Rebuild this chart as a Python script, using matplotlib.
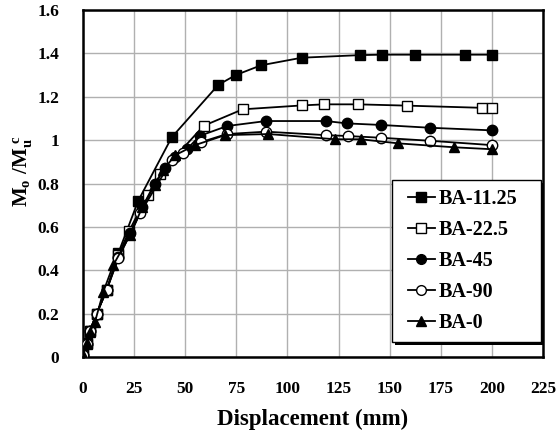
import matplotlib
matplotlib.use("Agg")
import matplotlib.pyplot as plt
from matplotlib.patches import Rectangle

plt.rcParams['font.family'] = ['Liberation Serif', 'DejaVu Serif']
plt.rcParams['font.weight'] = 'bold'
plt.rcParams['mathtext.fontset'] = 'custom'
plt.rcParams['mathtext.rm'] = 'Liberation Serif:bold'
plt.rcParams['mathtext.bf'] = 'Liberation Serif:bold'
plt.rcParams['mathtext.it'] = 'Liberation Serif:bold'

# BA-11.25
x_1125 = [0, 1.8, 3.4, 6.7, 11.6, 17.3, 27, 43.4, 66.2, 74.7, 87.1, 107, 135.7, 146.1, 162.4, 186.9, 200]
y_1125 = [0.01, 0.065, 0.12, 0.2, 0.31, 0.48, 0.72, 1.013, 1.255, 1.30, 1.345, 1.38, 1.392, 1.394, 1.394, 1.394, 1.394]
# BA-22.5
x_225 = [0, 1.8, 3.4, 6.7, 11.6, 17.3, 22.5, 31.6, 37.5, 59.0, 78.1, 107, 117.9, 134.4, 158.7, 195, 200]
y_225 = [0.01, 0.06, 0.12, 0.2, 0.31, 0.47, 0.58, 0.747, 0.845, 1.066, 1.142, 1.16, 1.165, 1.165, 1.159, 1.149, 1.149]
# BA-45
x_45 = [0, 1.8, 3.4, 6.7, 11.6, 17.3, 23, 29, 35, 40, 45, 51, 57.2, 70.5, 89.5, 118.7, 129.3, 145.6, 169.8, 200]
y_45 = [0.01, 0.06, 0.12, 0.2, 0.31, 0.46, 0.57, 0.69, 0.80, 0.87, 0.92, 0.96, 1.02, 1.065, 1.088, 1.088, 1.077, 1.07, 1.057, 1.045]
# BA-90
x_90 = [0, 1.8, 3.4, 6.7, 11.6, 17.3, 27.9, 43.4, 49, 57.5, 70.3, 89.5, 118.7, 129.5, 145.6, 169.8, 200]
y_90 = [0.01, 0.06, 0.12, 0.2, 0.31, 0.455, 0.662, 0.908, 0.942, 0.99, 1.028, 1.039, 1.023, 1.019, 1.011, 0.997, 0.977]
# BA-0
x_0 = [0, 1.8, 3.4, 5.9, 9.9, 14.8, 23, 29, 35.2, 39.3, 45, 54.8, 69.5, 90.7, 123.3, 135.8, 154.3, 181.5, 200]
y_0 = [0.01, 0.065, 0.117, 0.163, 0.30, 0.424, 0.562, 0.69, 0.793, 0.862, 0.93, 0.977, 1.023, 1.028, 1.004, 1.004, 0.985, 0.967, 0.958]

labels = ['BA-11.25', 'BA-22.5', 'BA-45', 'BA-90', 'BA-0']
x_ticks = [0, 25, 50, 75, 100, 125, 150, 175, 200, 225]
y_ticks = [0, 0.2, 0.4, 0.6, 0.8, 1.0, 1.2, 1.4, 1.6]
y_ticklabels = ['0', '0.2', '0.4', '0.6', '0.8', '1', '1.2', '1.4', '1.6']

fig = plt.figure(figsize=(5.58, 4.36), dpi=100)
ax = fig.add_axes([83/558, 1 - 357/436, 460/558, 347/436])

series = [
    (x_1125, y_1125, dict(marker='s', mfc='black', ms=7.5)),
    (x_225, y_225, dict(marker='s', mfc='white', ms=7.5)),
    (x_45, y_45, dict(marker='o', mfc='black', ms=7.5)),
    (x_90, y_90, dict(marker='o', mfc='white', ms=7.5)),
    (x_0, y_0, dict(marker='^', mfc='black', ms=7.5)),
]
for (xs, ys, st), lab in zip(series, labels):
    ax.plot(xs, ys, color='black', lw=1.3, mec='black', mew=1.0, label=lab, zorder=3, **st)

ax.set_xlim(0, 225)
ax.set_ylim(0, 1.6)
ax.set_xticks(x_ticks)
ax.set_xticklabels([str(t) for t in x_ticks])
ax.set_yticks(y_ticks)
ax.set_yticklabels(y_ticklabels)
ax.tick_params(length=0, labelsize=12.5, pad=17)
for lab in ax.get_xticklabels() + ax.get_yticklabels():
    lab.set_fontweight('bold')
ax.grid(True, color='#b0b0b0', lw=1.0, zorder=0)
ax.set_axisbelow(True)
for s in ax.spines.values():
    s.set_linewidth(1.8)
    s.set_color('black')

ax.set_xlabel('Displacement (mm)', fontsize=16.5, fontweight='bold', labelpad=9)
ax.set_ylabel(r'$\mathbf{M_o\ /M_u^{\ c}}$', fontsize=15)
ax.yaxis.set_label_coords(-0.107, 0.535)

# legend frame with solid shadow (axes coords)
bx0, bx1 = 0.6717, 0.9957
by0, by1 = 0.0432, 0.510
dx, dy = 3 / 460, 3 / 347
ax.add_patch(Rectangle((bx0 + dx, by0 - dy), bx1 - bx0, by1 - by0, transform=ax.transAxes,
                       facecolor='black', edgecolor='black', lw=0, zorder=5, clip_on=False))
ax.add_patch(Rectangle((bx0, by0), bx1 - bx0, by1 - by0, transform=ax.transAxes,
                       facecolor='white', edgecolor='black', lw=1.0, zorder=6, clip_on=False))

leg = ax.legend(loc='center', bbox_to_anchor=(0.825, 0.277), borderaxespad=0,
                frameon=False, fontsize=14.5, handlelength=1.35, handletextpad=0.2,
                labelspacing=0.55, borderpad=0)
leg.set_zorder(7)
for t in leg.get_texts():
    t.set_fontweight('bold')
for h in leg.legend_handles:
    h.set_markersize(7)

fig.savefig('out.png', dpi=100)
